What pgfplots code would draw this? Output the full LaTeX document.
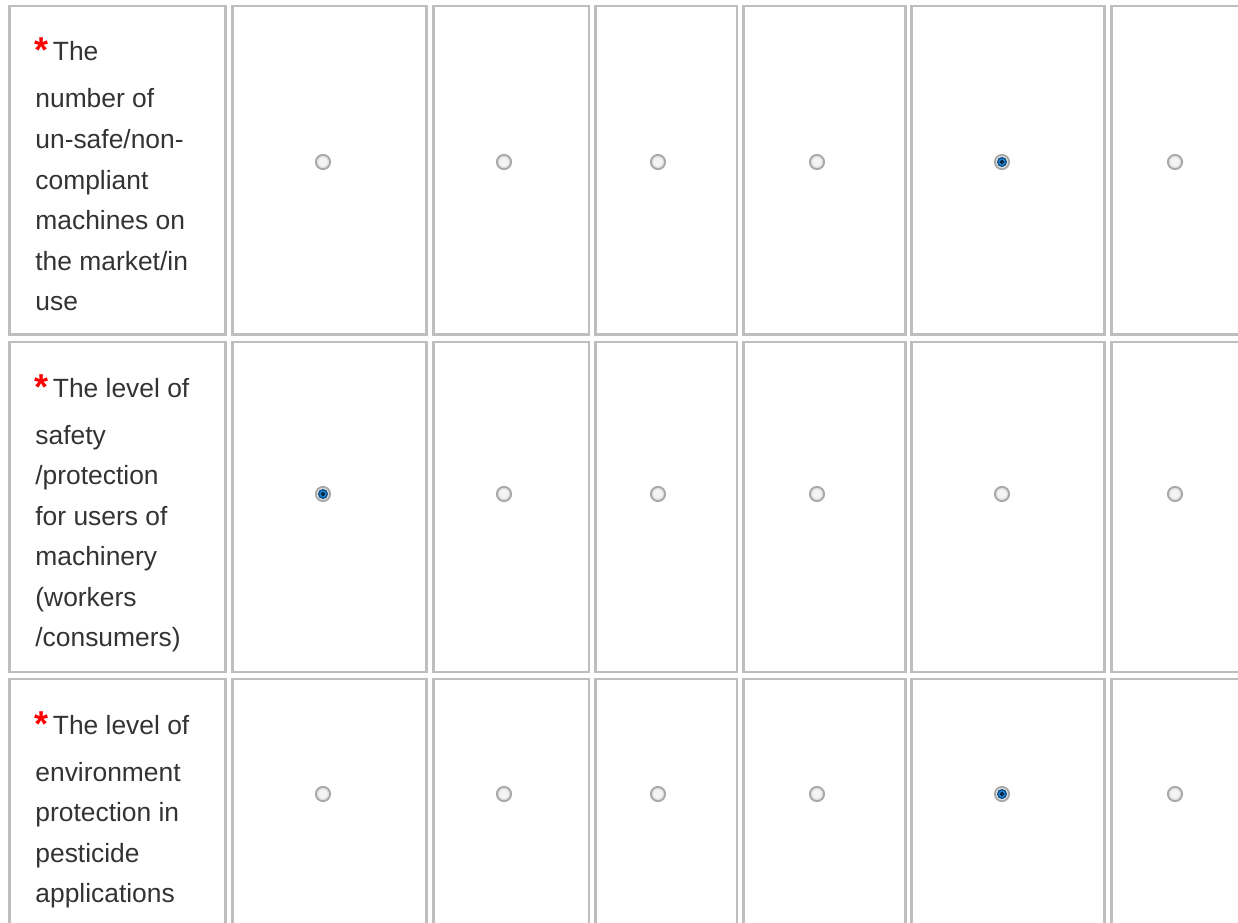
\documentclass[border=0pt]{standalone}
\usepackage{pgfplots}
\pgfplotsset{compat=1.18}
\usepackage{pgfplotstable}
\usepackage{fontspec}
\setmainfont{Liberation Sans}
\definecolor{cellgray}{RGB}{190,190,190}
\definecolor{txt}{RGB}{51,51,51}
\definecolor{ringgray}{RGB}{168,168,168}
\definecolor{radiofill}{RGB}{222,222,222}
\definecolor{radioin}{RGB}{244,244,246}
\definecolor{dotblue}{RGB}{28,130,210}
\definecolor{dotedge}{RGB}{12,72,130}
\definecolor{astred}{RGB}{255,0,0}

% radio buttons: column position (px), row position (px)
\pgfplotstableread{
x y
323 162
504 162
658 162
817 162
1002 162
1175 162
323 494
504 494
658 494
817 494
1002 494
1175 494
323 794
504 794
658 794
817 794
1002 794
1175 794
}\radios
% selected answers
\pgfplotstableread{
x y
1002 162
323 494
1002 794
}\selected

\newcommand\tline[2]{\node[anchor=base west, inner sep=0pt, text=txt, font=\fontsize{13.2bp}{16bp}\selectfont] at (axis cs:35,#1) {#2};}
\newcommand\tfirst[2]{%
\node[anchor=base west, inner sep=0pt, text=astred, font=\fontsize{18bp}{18bp}\bfseries\selectfont] at (axis cs:34,#1+2) {*};
\node[anchor=base west, inner sep=0pt, text=txt, font=\fontsize{13.2bp}{16bp}\selectfont] at (axis cs:52.5,#1) {#2};}
\newcommand\cell[4]{\draw[cellgray, line width=1.3bp] (axis cs:#1,#3) rectangle (axis cs:#2,#4);}

\begin{document}
\begin{tikzpicture}
\begin{axis}[name=ax, at={(0,0)}, anchor=south west, scale only axis,
  width=619bp, height=461.5bp,
  xmin=0, xmax=1238, ymin=0, ymax=923, y dir=reverse,
  hide axis, clip=true]
% cell borders
\cell{9.2}{225.4}{6.2}{334.5}
\cell{232.2}{426.5}{6.2}{334.5}
\cell{433.5}{589}{6.2}{334.5}
\cell{595.5}{737}{6.2}{334.5}
\cell{743.5}{905.5}{6.2}{334.5}
\cell{911.5}{1104.7}{6.2}{334.5}
\cell{1111.3}{1290}{6.2}{334.5}
\cell{9.2}{225.4}{342}{672}
\cell{232.2}{426.5}{342}{672}
\cell{433.5}{589}{342}{672}
\cell{595.5}{737}{342}{672}
\cell{743.5}{905.5}{342}{672}
\cell{911.5}{1104.7}{342}{672}
\cell{1111.3}{1290}{342}{672}
\cell{9.2}{225.4}{678.9}{980}
\cell{232.2}{426.5}{678.9}{980}
\cell{433.5}{589}{678.9}{980}
\cell{595.5}{737}{678.9}{980}
\cell{743.5}{905.5}{678.9}{980}
\cell{911.5}{1104.7}{678.9}{980}
\cell{1111.3}{1290}{678.9}{980}
% question texts
\tfirst{61}{The}
\tline{108}{number of}
\tline{148.5}{un-safe/non-}
\tline{189}{compliant}
\tline{229.5}{machines on}
\tline{270}{the market/in}
\tline{310.5}{use}
\tfirst{397}{The level of}
\tline{444}{safety}
\tline{484.5}{/protection}
\tline{525}{for users of}
\tline{565.5}{machinery}
\tline{606}{(workers}
\tline{646.5}{/consumers)}
\tfirst{734}{The level of}
\tline{781}{environment}
\tline{821.5}{protection in}
\tline{862}{pesticide}
\tline{902.5}{applications}
% radio buttons
\addplot[only marks, mark=*, mark size=3.6pt, mark options={fill=radiofill, draw=ringgray, line width=0.9pt}] table[x=x,y=y] {\radios};
\addplot[only marks, mark=*, mark size=2.5pt, mark options={fill=radioin, draw=white!82!gray, line width=0.3pt}] table[x=x,y=y] {\radios};
\addplot[only marks, mark=*, mark size=2.2pt, mark options={fill=dotblue, draw=dotedge, line width=0.6pt}] table[x=x,y=y] {\selected};
\addplot[only marks, mark=*, mark size=0.8pt, mark options={fill=dotedge!70!dotblue, draw=none}] table[x=x,y=y] {\selected};
\end{axis}
\pgfresetboundingbox
\useasboundingbox (0,0) rectangle (619bp,461.5bp);
\end{tikzpicture}
\end{document}
